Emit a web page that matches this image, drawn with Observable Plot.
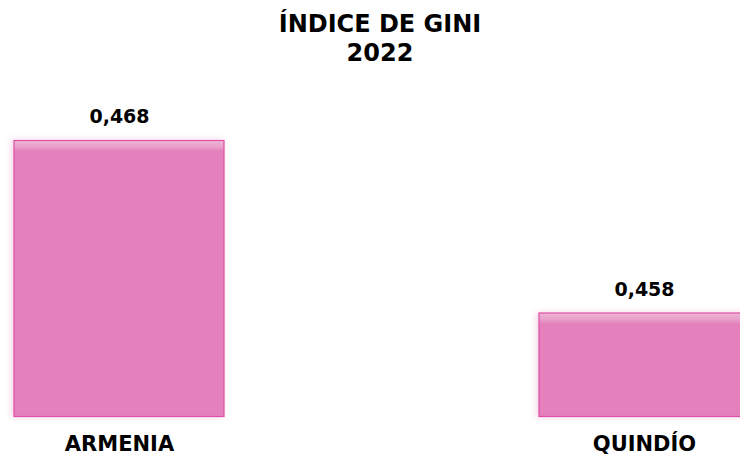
<!DOCTYPE html>
<html>
<head>
<meta charset="utf-8">
<script src="https://cdn.jsdelivr.net/npm/d3@7"></script>
<script src="https://cdn.jsdelivr.net/npm/@observablehq/plot@0.6"></script>
<style>
  html, body { margin: 0; padding: 0; background: #fff; }
  #wrap { position: relative; width: 740px; height: 456px; overflow: hidden; }
  #title { position: absolute; left: 0; top: 10px; width: 760px; text-align: center;
           font-family: "DejaVu Sans", sans-serif; font-weight: bold; font-size: 24px;
           line-height: 29px; color: #000; }
  #chart { position: absolute; left: 0; top: 0; }
</style>
</head>
<body>
<div id="wrap">
  <div id="chart"></div>
  <div id="title">ÍNDICE DE GINI<br>2022</div>
</div>
<script>
const categories = ["ARMENIA", "QUINDÍO"];
const values = [0.468, 0.458];
const labels = ["0,468", "0,458"];

const yBase = 0.452;
const data = categories.map((c, i) => ({cat: c, value: values[i], label: labels[i], grad: `url(#barGrad${i})`}));

const yRange = [416.5, 106];
const yDomain = [yBase, 0.47];
const yScale = Plot.scale({y: {domain: yDomain, range: yRange}});

const defs = () => {
  const ns = "http://www.w3.org/2000/svg";
  const d = document.createElementNS(ns, "defs");
  data.forEach((row, i) => {
    const h = yScale.apply(yBase) - yScale.apply(row.value);
    const off = Math.min(1, 11 / h);
    const g = document.createElementNS(ns, "linearGradient");
    g.setAttribute("id", `barGrad${i}`);
    g.setAttribute("x1", "0"); g.setAttribute("y1", "0");
    g.setAttribute("x2", "0"); g.setAttribute("y2", "1");
    [[0, "#efb6d6"], [off * 0.5, "#eaa3cb"], [off, "#e480bb"], [1, "#e480bb"]].forEach(([o, c]) => {
      const s = document.createElementNS(ns, "stop");
      s.setAttribute("offset", o);
      s.setAttribute("stop-color", c);
      g.appendChild(s);
    });
    d.appendChild(g);
  });
  const f = document.createElementNS(ns, "filter");
  f.setAttribute("id", "glow");
  f.setAttribute("x", "-10%"); f.setAttribute("y", "-10%");
  f.setAttribute("width", "120%"); f.setAttribute("height", "120%");
  f.innerHTML = '<feDropShadow dx="-2" dy="0" stdDeviation="3" flood-color="#e480bb" flood-opacity="0.35"/>';
  d.appendChild(f);
  return d;
};

const chart = Plot.plot({
  width: 740,
  height: 456,
  marginTop: 0,
  marginBottom: 39.5,
  marginLeft: 0,
  marginRight: 0,
  style: {fontFamily: "DejaVu Sans, sans-serif", background: "transparent"},
  x: {domain: categories, range: [14, 749], paddingInner: 0.6, paddingOuter: 0},
  y: {domain: yDomain, range: yRange, axis: null},
  color: {type: "identity"},
  marks: [
    defs,
    Plot.barY(data, {x: "cat", y1: yBase, y2: "value", fill: "grad", stroke: "#de4fa6", strokeWidth: 1.2}),
    Plot.text(data, {x: "cat", y: "value", text: "label", dy: -18, lineAnchor: "bottom",
                     fontSize: 19, fontWeight: "bold", fill: "#000"}),
    Plot.axisX({tickSize: 0, tickPadding: 19, fontSize: 21, fontWeight: "bold", color: "#000", label: null})
  ]
});
chart.querySelectorAll("g[aria-label='bar'] rect").forEach(r => r.setAttribute("filter", "url(#glow)"));
document.getElementById("chart").appendChild(chart);
</script>
</body>
</html>
